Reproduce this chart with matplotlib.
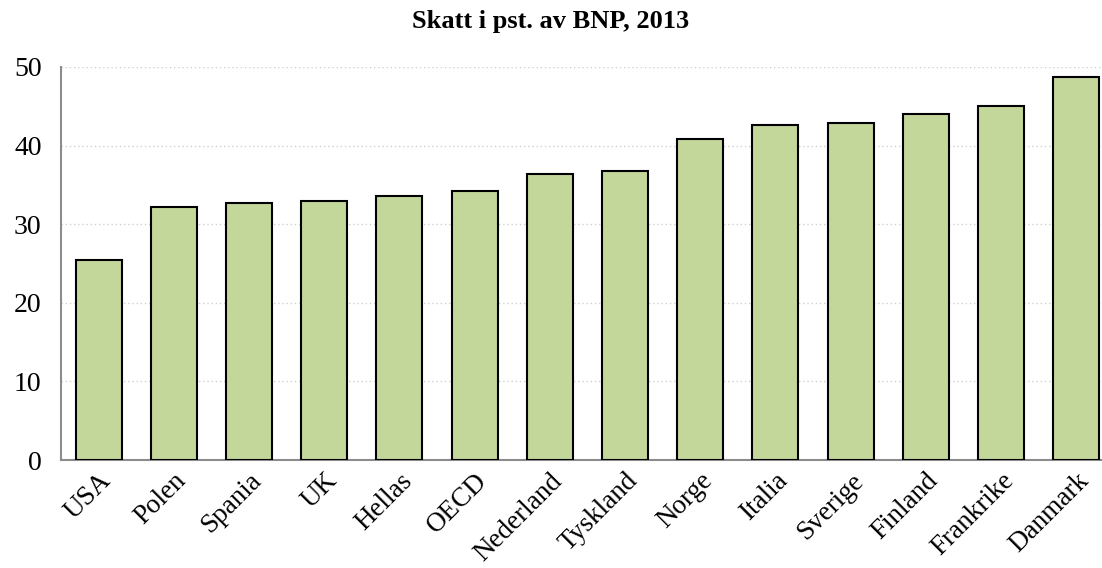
import matplotlib.pyplot as plt

countries = ["USA", "Polen", "Spania", "UK", "Hellas", "OECD", "Nederland",
             "Tyskland", "Norge", "Italia", "Sverige", "Finland", "Frankrike", "Danmark"]
tax_pct = [25.4, 32.2, 32.7, 33.0, 33.6, 34.2, 36.4,
           36.8, 40.8, 42.6, 42.9, 44.0, 45.0, 48.7]

plt.rcParams["font.family"] = ["Liberation Serif", "DejaVu Serif"]

fig = plt.figure(figsize=(11.02, 5.68), dpi=100)
ax = fig.add_axes([61 / 1102, 1 - 460 / 568, 1040 / 1102, 393 / 568])

x = range(len(countries))
ax.bar(x, tax_pct, width=0.61, color="#C4D79B", edgecolor="black", linewidth=1.5, zorder=3)

ax.set_ylim(0, 50)
ax.set_xlim(-0.5, 13.33)
ax.set_yticks([0, 10, 20, 30, 40, 50])
ax.yaxis.grid(True, linestyle=(0, (1, 2)), color="#d0d0d0", linewidth=1, zorder=0)
ax.tick_params(axis="y", length=0, labelsize=20, pad=14)
ax.tick_params(axis="x", length=0, labelsize=19.5, pad=6)
ax.set_xticks(list(x))
ax.set_xticklabels(countries, rotation=45, ha="right", rotation_mode="anchor")

for side in ["top", "right"]:
    ax.spines[side].set_visible(False)
for side in ["left", "bottom"]:
    ax.spines[side].set_color("#8c8c8c")
    ax.spines[side].set_linewidth(1.5)

fig.suptitle("Skatt i pst. av BNP, 2013", fontsize=19, fontweight="bold", y=0.982)

fig.savefig("out.png", dpi=100)
